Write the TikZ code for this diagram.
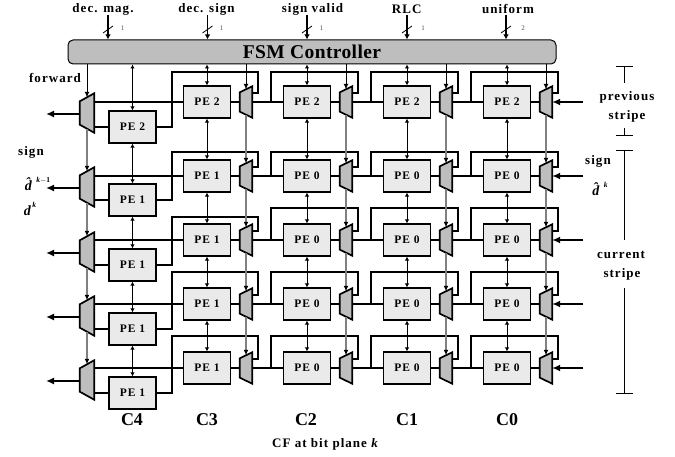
\documentclass[tikz,border=0pt]{standalone}
\usepackage{fontspec}
\setmainfont{Liberation Serif}
\newfontfamily\lblfont[LetterSpace=8]{Liberation Serif}
\usetikzlibrary{arrows.meta,calc}
\definecolor{muxgray}{HTML}{BEBEBE}
\definecolor{pegray}{HTML}{EAEAEA}
\newcommand{\fsz}[1]{\fontsize{#1}{#1}\selectfont}
\newcommand{\mysup}[1]{\kern1.5pt\raisebox{0.55em}{\fsz{7.5}\textbf{\textit{#1}}}}
\tikzset{
  pebox/.style={draw,line width=1.7pt,fill=pegray,minimum width=47pt,minimum height=31.5pt,inner sep=0pt,font=\lblfont\bfseries\fsz{11.5}},
  muxr/.style={minimum width=12pt,minimum height=31pt,inner sep=0pt},
  muxl/.style={minimum width=14pt,minimum height=39pt,inner sep=0pt},
  muxshape/.style={draw,line width=1.7pt,fill=muxgray,line join=miter},
  wire/.style={line width=1.6pt},
  bigarrow/.style={line width=1.8pt,-{Latex[length=8pt,width=7pt]}},
  biarrow/.style={line width=1pt,{Latex[length=4pt,width=4.5pt]}-{Latex[length=4pt,width=4.5pt]}},
  ctrl/.style={line width=0.9pt,-{Latex[length=5.5pt,width=5pt]}},
  ctrlgray/.style={line width=1.1pt,draw=black!50,-{Latex[length=5.5pt,width=5pt,black]}},
  toparrow/.style={line width=1.3pt,-{Latex[length=5pt,width=5.5pt]}},
  tick/.style={line width=0.8pt},
  rule/.style={line width=1pt},
  lbl/.style={inner sep=0pt,font=\lblfont\bfseries\fsz{13}},
  mathlbl/.style={inner sep=0pt,font=\bfseries\fsz{14}},
  collbl/.style={inner sep=0pt,font=\bfseries\fsz{18}},
  tiny1/.style={inner sep=0pt,text=black!70,font=\fsz{7}}
}
\begin{document}
\begin{tikzpicture}[x=1pt,y=-1pt]
\useasboundingbox (0,0) rectangle (675,457);
% FSM
\node[draw,line width=1pt,fill=muxgray,rounded corners=5pt,minimum width=488pt,minimum height=24pt,inner sep=0pt,
      font=\bfseries\fsz{19.5}] (fsm) at (312,52) {\addfontfeature{LetterSpace=2}FSM Controller};
% top inputs
\foreach \n/\x/\lx/\tx/\txt/\w in {a/108/103/122.7/dec. mag./1,b/207.5/206.5/221.7/dec. sign/1,c/307/312.5/321.7/sign valid/1,d/407/406.7/423/RLC/1,e/506/508/523/uniform/2}{
  \node[lbl] (top-\n) at (\lx,9) {\txt};
  \coordinate (in-\n) at (\x,15);
  \draw[toparrow] (in-\n) -- (in-\n |- fsm.north);
  \coordinate (ta-\n) at (\x-5,33);
  \coordinate (tb-\n) at (\x+5,26);
  \draw[tick] (ta-\n) -- (tb-\n);
  \node[tiny1] (w-\n) at (\tx,28.5) {\w};
}
% rows
\foreach \r/\y/\yc/\ym/\ttop/\ttopc in {1/102/127/113/72/72,2/176/200/187/152/152,3/240/265/252/217/208,4/304/329/316/272/272,5/368/393/380/336/336}{
  % left mux and C4
  \node[muxl] (ml-\r) at (87,\ym) {};
  \node[pebox] (pe-\r-4) at (132.5,\yc) {PE \ifnum\r=1 2\else 1\fi};
  \coordinate (out-\r) at (46,\ym+1);
  \draw[bigarrow] (ml-\r.west |- out-\r) -- (out-\r);
  \draw[wire] (pe-\r-4.west) -- (pe-\r-4.west -| ml-\r.east);
  % row elements
  \foreach \c/\x/\mx/\lx/\rx in {3/207/246/172/258,2/307/346/271/358,1/407/446/371/458,0/507/546/471/558}{
    \node[muxr] (mr-\r-\c) at (\mx,\y) {};
    \node[pebox] (pe-\r-\c) at (\x,\y) {PE \ifnum\r=1 2\else\ifnum\c=3 1\else 0\fi\fi};
    \draw[wire] (pe-\r-\c.east) -- (mr-\r-\c.west);
    \ifnum\c=3
      \coordinate (la-\r-\c) at (\lx,\ttop);
      \coordinate (lb-\r-\c) at (\rx,\ttop);
      \draw[wire] (pe-\r-4.east) -| (la-\r-\c) -- (lb-\r-\c) |- ([yshift=9pt]mr-\r-\c.east);
      \draw[wire] (ml-\r.east |- mr-\r-\c.east) -- (pe-\r-\c.west);
    \else
      \coordinate (la-\r-\c) at (\lx,\ttopc);
      \coordinate (lb-\r-\c) at (\rx,\ttopc);
      \coordinate (lj-\r-\c) at (\lx,\y);
      \draw[wire] (lj-\r-\c) -- (la-\r-\c) -- (lb-\r-\c) |- ([yshift=9pt]mr-\r-\c.east);
    \fi
    \draw[muxshape] (mr-\r-\c.north east) -- (mr-\r-\c.south east) -- ([yshift=6pt]mr-\r-\c.south west) -- ([yshift=-6pt]mr-\r-\c.north west) -- cycle;
  }
  \draw[wire] (mr-\r-3.east) -- (pe-\r-2.west);
  \draw[wire] (mr-\r-2.east) -- (pe-\r-1.west);
  \draw[wire] (mr-\r-1.east) -- (pe-\r-0.west);
  \coordinate (rin-\r) at (583,\y);
  \draw[bigarrow] (rin-\r) -- (mr-\r-0.east);
  \draw[muxshape] (ml-\r.north east) -- (ml-\r.south east) -- ([yshift=8pt]ml-\r.south west) -- ([yshift=-8pt]ml-\r.north west) -- cycle;
}
% vertical PE links and FSM links
\foreach \c in {4,3,2,1,0}{
  \draw[biarrow] (fsm.south -| pe-1-\c.north) -- (pe-1-\c.north);
  \foreach \a/\b in {1/2,2/3,3/4,4/5}{
    \draw[biarrow] (pe-\a-\c.south) -- (pe-\b-\c.north);
  }
}
% mux control lines
\draw[ctrl] (fsm.south -| ml-1.north) -- ([yshift=-4pt]ml-1.north);
\foreach \a/\b in {1/2,2/3,3/4,4/5}{
  \draw[ctrlgray] ([yshift=4pt]ml-\a.south) -- ([yshift=-4pt]ml-\b.north);
}
\foreach \c in {3,2,1,0}{
  \draw[ctrl] (fsm.south -| mr-1-\c.north) -- ([yshift=-3pt]mr-1-\c.north);
  \foreach \a/\b in {1/2,2/3,3/4,4/5}{
    \draw[ctrlgray] ([yshift=3pt]mr-\a-\c.south) -- ([yshift=-3pt]mr-\b-\c.north);
  }
}
% left labels
\node[lbl] (forward) at (55,78) {forward};
\node[lbl] (signl) at (31,152) {sign};
\node[mathlbl] (dhatl) at (37.5,184) {\textit{\^d}\mysup{k}\raisebox{0.55em}{\fsz{7.5}\textbf{$-$1}}};
\node[mathlbl] (dl) at (30,209) {\textit{d}\mysup{k}};
% right labels
\node[lbl] (signr) at (598,161) {sign};
\node[mathlbl] (dhatr) at (600,189) {\textit{\^d}\mysup{k}};
\node[lbl] (prev) at (627,97) {previous};
\node[lbl] (pstripe) at (627,116) {stripe};
\node[lbl] (curr) at (621,255) {current};
\node[lbl] (cstripe) at (622,274) {stripe};
% brackets
\coordinate (b1) at (624,67);
\coordinate (b2) at (624,83);
\coordinate (b3) at (624,128);
\coordinate (b4) at (624,136);
\coordinate (b5) at (624,151);
\coordinate (b6) at (624,240);
\coordinate (b7) at (624,288);
\coordinate (b8) at (624,393);
\draw[rule] (b1) -- (b2);
\draw[rule] (b3) -- (b4);
\draw[rule] (b5) -- (b6);
\draw[rule] (b7) -- (b8);
\foreach \b in {b1,b4,b5,b8}{
  \draw[rule] ([xshift=-8.5pt]\b) -- ([xshift=8.5pt]\b);
}
% bottom labels
\node[collbl] (c4) at (132,420) {C4};
\node[collbl] (c3) at (207,420) {C3};
\node[collbl] (c2) at (306,420) {C2};
\node[collbl] (c1) at (407,420) {C1};
\node[collbl] (c0) at (507,420) {C0};
\node[lbl] (cf) at (325.5,444) {CF at bit plane \textit{k}};
\end{tikzpicture}
\end{document}
